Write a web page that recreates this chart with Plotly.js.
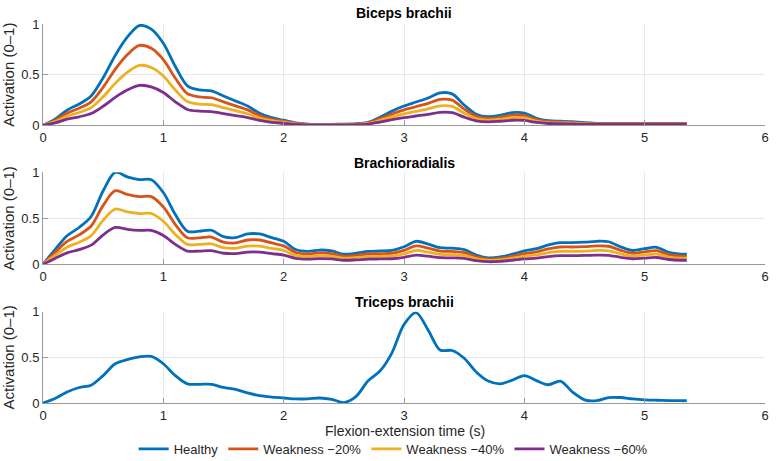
<!DOCTYPE html>
<html>
<head>
<meta charset="utf-8">
<script src="https://cdn.plot.ly/plotly-3.0.1.min.js"></script>
<style>html,body{margin:0;padding:0;background:#fff;}#chart{width:776px;height:461px;}</style>
</head>
<body>
<div id="chart"></div>
<script>
// time (s)
const time = [0,0.1,0.2,0.3,0.4,0.5,0.6,0.7,0.8,0.9,1.0,1.1,1.2,1.3,1.4,1.5,1.6,1.7,1.8,1.9,2.0,2.1,2.2,2.3,2.4,2.5,2.6,2.7,2.8,2.9,3.0,3.1,3.2,3.3,3.4,3.5,3.6,3.7,3.8,3.9,4.0,4.1,4.2,4.3,4.4,4.5,4.6,4.7,4.8,4.9,5.0,5.1,5.2,5.3,5.35];

const seriesNames = ["Healthy", "Weakness \u221220%", "Weakness \u221240%", "Weakness \u221260%"];
const muscleNames = ["Biceps brachii", "Brachioradialis", "Triceps brachii"];
const xTitle = "Flexion-extension time (s)";
const yTitle = "Activation (0\u20131)";

// Biceps brachii
const bicepsHealthy = [0,0.06,0.15,0.21,0.29,0.47,0.69,0.87,0.985,0.95,0.81,0.58,0.39,0.35,0.34,0.29,0.24,0.19,0.12,0.075,0.05,0.025,0.012,0.01,0.01,0.012,0.015,0.03,0.08,0.14,0.19,0.23,0.27,0.32,0.31,0.20,0.11,0.085,0.10,0.125,0.12,0.07,0.045,0.04,0.035,0.025,0.02,0.02,0.02,0.02,0.02,0.02,0.02,0.02,0.02];
const bicepsW20 = [0,0.048,0.12,0.168,0.232,0.376,0.552,0.696,0.788,0.76,0.648,0.464,0.312,0.28,0.272,0.232,0.192,0.152,0.096,0.06,0.04,0.02,0.01,0.008,0.008,0.01,0.012,0.024,0.064,0.112,0.152,0.184,0.216,0.256,0.248,0.16,0.088,0.068,0.08,0.1,0.096,0.056,0.036,0.032,0.028,0.02,0.016,0.016,0.016,0.016,0.016,0.016,0.016,0.016,0.016];
const bicepsW40 = [0,0.036,0.09,0.126,0.174,0.282,0.414,0.522,0.591,0.57,0.486,0.348,0.234,0.21,0.204,0.174,0.144,0.114,0.072,0.045,0.03,0.015,0.007,0.006,0.006,0.007,0.009,0.018,0.048,0.084,0.114,0.138,0.162,0.192,0.186,0.12,0.066,0.051,0.06,0.075,0.072,0.042,0.027,0.024,0.021,0.015,0.012,0.012,0.012,0.012,0.012,0.012,0.012,0.012,0.012];
const bicepsW60 = [0,0.024,0.06,0.084,0.116,0.188,0.276,0.348,0.394,0.38,0.324,0.232,0.156,0.14,0.136,0.116,0.096,0.076,0.048,0.03,0.02,0.01,0.005,0.004,0.004,0.005,0.006,0.012,0.032,0.056,0.076,0.092,0.108,0.128,0.124,0.08,0.044,0.034,0.04,0.05,0.048,0.028,0.018,0.016,0.014,0.01,0.008,0.008,0.008,0.008,0.008,0.008,0.008,0.008,0.008];

// Brachioradialis
const brachioHealthy = [0,0.16,0.31,0.40,0.52,0.80,1.0,0.95,0.92,0.92,0.78,0.54,0.36,0.36,0.37,0.30,0.29,0.33,0.33,0.29,0.25,0.16,0.14,0.155,0.145,0.11,0.12,0.14,0.145,0.15,0.19,0.25,0.22,0.18,0.175,0.16,0.10,0.07,0.08,0.11,0.145,0.17,0.21,0.235,0.235,0.24,0.25,0.245,0.19,0.15,0.17,0.185,0.13,0.11,0.11];
const brachioW20 = [0,0.128,0.248,0.32,0.416,0.64,0.8,0.76,0.736,0.736,0.624,0.432,0.288,0.288,0.296,0.24,0.232,0.264,0.264,0.232,0.2,0.128,0.112,0.124,0.116,0.088,0.096,0.112,0.116,0.12,0.152,0.2,0.176,0.144,0.14,0.128,0.08,0.056,0.064,0.088,0.116,0.136,0.168,0.188,0.188,0.192,0.2,0.196,0.152,0.12,0.136,0.148,0.104,0.088,0.088];
const brachioW40 = [0,0.096,0.186,0.24,0.312,0.48,0.6,0.57,0.552,0.552,0.468,0.324,0.216,0.216,0.222,0.18,0.174,0.198,0.198,0.174,0.15,0.096,0.084,0.093,0.087,0.066,0.072,0.084,0.087,0.09,0.114,0.15,0.132,0.108,0.105,0.096,0.06,0.042,0.048,0.066,0.087,0.102,0.126,0.141,0.141,0.144,0.15,0.147,0.114,0.09,0.102,0.111,0.078,0.066,0.066];
const brachioW60 = [0,0.064,0.124,0.16,0.208,0.32,0.4,0.38,0.368,0.368,0.312,0.216,0.144,0.144,0.148,0.12,0.116,0.132,0.132,0.116,0.1,0.064,0.056,0.062,0.058,0.044,0.048,0.056,0.058,0.06,0.076,0.1,0.088,0.072,0.07,0.064,0.04,0.028,0.032,0.044,0.058,0.068,0.084,0.094,0.094,0.096,0.1,0.098,0.076,0.06,0.068,0.074,0.052,0.044,0.044];

// Triceps brachii
const tricepsHealthy = [0,0.05,0.12,0.17,0.195,0.30,0.43,0.475,0.505,0.51,0.43,0.30,0.21,0.205,0.205,0.17,0.15,0.11,0.08,0.065,0.055,0.045,0.045,0.055,0.04,0.005,0.07,0.24,0.35,0.55,0.86,0.99,0.80,0.58,0.575,0.49,0.34,0.24,0.21,0.25,0.30,0.245,0.20,0.24,0.12,0.035,0.025,0.06,0.06,0.045,0.035,0.03,0.027,0.025,0.025];

const colors = ["#0072BD", "#D95319", "#EDB120", "#7E2F8E"];
const font = "Liberation Sans, Arial, Helvetica, sans-serif";

const traces = [];
function addSeries(y, idx, axisNum, showLegend) {
  const sfx = axisNum === 1 ? "" : String(axisNum);
  traces.push({
    x: time, y: y, type: "scatter", mode: "lines",
    name: seriesNames[idx], legendgroup: seriesNames[idx], showlegend: showLegend,
    line: {color: colors[idx], width: 2.8, shape: "spline", smoothing: 0.9},
    xaxis: "x" + sfx, yaxis: "y" + sfx, hoverinfo: "skip"
  });
}
[bicepsHealthy, bicepsW20, bicepsW40, bicepsW60].forEach((y, i) => addSeries(y, i, 1, true));
[brachioHealthy, brachioW20, brachioW40, brachioW60].forEach((y, i) => addSeries(y, i, 2, false));
addSeries(tricepsHealthy, 0, 3, false);

function xax(anchor) {
  return {
    anchor: anchor, domain: [0, 1], range: [0, 6], dtick: 1, tick0: 0,
    showgrid: true, gridcolor: "#e8e8e8", gridwidth: 1,
    showline: true, linecolor: "#999", linewidth: 1, mirror: false,
    ticks: "inside", ticklen: 5, tickcolor: "#999", ticklabelstandoff: 0,
    zeroline: false, automargin: false, tickfont: {family: font, size: 13, color: "#262626"}
  };
}
function yax(anchor, domain) {
  return {
    anchor: anchor, domain: domain, range: [0, 1], tickvals: [0, 0.5, 1], ticktext: ["0", "0.5", "1"],
    showgrid: true, gridcolor: "#e8e8e8", gridwidth: 1,
    showline: true, linecolor: "#999", linewidth: 1, mirror: false,
    ticks: "inside", ticklen: 5, tickcolor: "#999",
    zeroline: false, automargin: false, tickfont: {family: font, size: 13, color: "#262626"},
    title: {text: yTitle, font: {family: font, size: 15, color: "#262626"}, standoff: 5}
  };
}

const titleY = [1.029, 0.634, 0.267];
const annotations = muscleNames.map((m, i) => ({
  text: "<b>" + m + "</b>", xref: "paper", yref: "paper", x: 0.5, y: titleY[i],
  xanchor: "center", yanchor: "middle", showarrow: false,
  font: {family: font, size: 14, color: "#000"}
}));
annotations.push({
  text: xTitle, xref: "paper", yref: "paper", x: 0.502, y: -0.074,
  xanchor: "center", yanchor: "middle", showarrow: false,
  font: {family: font, size: 14, color: "#262626"}
});

const layout = {
  width: 776, height: 461,
  margin: {l: 43, r: 11, t: 24, b: 58},
  paper_bgcolor: "#fff", plot_bgcolor: "#fff",
  font: {family: font, color: "#262626"},
  showlegend: true,
  legend: {orientation: "h", x: 0.485, xanchor: "center", xref: "paper",
           yref: "container", y: 0.026, yanchor: "middle",
           font: {family: font, size: 13, color: "#262626"}, itemwidth: 30, bgcolor: "rgba(0,0,0,0)"},
  xaxis: xax("y"),
  xaxis2: xax("y2"),
  xaxis3: xax("y3"),
  yaxis: yax("x", [0.7327, 1]),
  yaxis2: yax("x2", [0.366, 0.6087]),
  yaxis3: yax("x3", [0, 0.2409]),
  annotations: annotations
};

Plotly.newPlot("chart", traces, layout, {displayModeBar: false, staticPlot: true});
</script>
</body>
</html>
